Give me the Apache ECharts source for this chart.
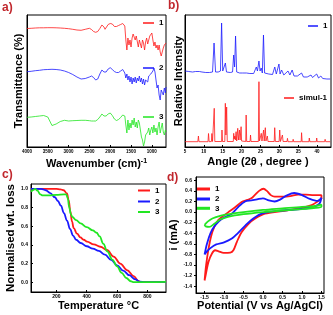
<!DOCTYPE html>
<html><head><meta charset="utf-8">
<script src="https://cdn.jsdelivr.net/npm/echarts@6/dist/echarts.min.js"></script>
<style>html,body{margin:0;padding:0;background:#fff}#c{width:333px;height:315px}</style>
</head><body><div id="c"></div><script>
const FONT = '"Liberation Sans", Arial, sans-serif';
// ---------- a) FTIR ----------
const ftirWavenumber = [4000,3900,3800,3700,3600,3500,3400,3300,3200,3100,3000,2900,2800,2700,2600,2500,
  2450,2400,2350,2300,2250,2200,2175,2150,2125,2100,2050,2000,1950,1900,1850,1800,1750,1700,1675,1650,1625,
  1600,1575,1550,1525,1500,1475,1450,1425,1400,1375,1350,1325,1300,1275,1250,1225,1200,1175,1150,1125,1100,1075,1050,1025,1000,975,950,925,900,875,850,825,800,775,750,725,700,675,
  660];
const ftir1 = [118.5,118.7,119,119.2,119.2,119.3,119.3,119.2,119,118.7,118.3,117.7,117,116.7,117.7,118.7,
  117.5,115.5,114.7,115.5,118.5,122,123,120,117.7,119,122.5,123.5,123,120.5,120.5,121.5,122.5,123.5,123,121,107,
  97,109,102,107,100,109,113,115,107,111,109,100,107,103,99,107,104,97,105,109,103,107,111,113,114,107,101,105,99,102,97,102,95,91,89,99,102,103,
  104];
const ftir2 = [75.3,75.7,76.3,76.7,77.3,77.5,77.7,77.5,77,76,74.5,72.5,70,68,68.5,70,
  71,69.5,67,68,73,77,78,75,73,75,78,79.3,77.5,75.5,74.5,74.5,76,77.5,77,74,69,
  73,67,71,65,70,63,69,65,70,64,69,66,71,65,69,63,68,62,67,69,65,71,69,73,74,76,79,75,67,59,62,52,47,57,59,52,59,54,
  60];
const ftir3 = [29.7,30,30.5,31,31.5,30,21.5,23,25.5,26.7,26,26.3,26.5,26.7,26.7,26.3,
  26,26,26,27.5,30,33,33.5,31,29,31,33,34,31.5,28,26.5,27.5,29.5,32,33,31,22,
  14,27,17,24,19,27,22,29,20,25,19,27,24,17,10,7,1,5,12,10,15,19,12,17,20,14,22,15,19,12,20,25,14,19,24,15,12,17,
  15];
const ftirTicks = [4000,3500,3000,2500,2000,1500,1000];
// ---------- b) PXRD ----------
const pxrdExpAngle = [5,6,7,7.8,8.3,8.8,9.5,10.5,11.5,12.3,12.7,13.1,13.8,14.4,14.7,15.0,15.4,15.7,16.0,17.0,
  17.6,17.9,18.15,18.4,18.7,19.5,20.3,20.8,21.3,22.2,23.2,23.9,24.2,24.6,24.9,25.2,25.5,25.8,26.1,26.5,
  27.2,28.2,28.8,29.2,29.9,30.2,30.6,31.2,32.3,32.8,33.4,33.9,34.8,35.9,36.4,37.4,38.4,38.8,39.9,40.4,
  41.0,41.5,42.0,42.6,43.0,43.5];
const pxrdExpIntensity = [76,75.5,75,75.5,77.5,75.5,75,74.5,74.5,75,104,75,75,76,124,76,75,84,75,74.5,
  75,92,80,111,75,74,74,76,74,73.5,73.5,80,76,86,76,79,74,112,74,76,
  73,72.5,80,73,83,73,77,72,76,72,77,71,71,74,70,70,72,69.5,73,69,
  71,68.5,70,68,69.5,68];
const pxrdSimAngle = [5,8.4,8.56,8.7,11.1,11.23,11.4,12.0,12.12,12.3,12.62,12.75,12.9,14.7,14.8,14.95,15.55,15.69,15.85,16.04,16.2,
  17.8,17.91,18.05,18.2,18.35,18.54,18.7,18.98,19.15,19.43,19.6,19.87,20.0,21.1,21.21,21.35,22.25,22.37,22.5,
  24.45,24.6,24.75,25.1,25.22,25.4,25.7,25.84,26.0,26.15,26.29,26.45,26.7,26.82,27.0,28.65,28.78,28.95,
  29.95,30.11,30.3,30.7,30.82,31,32.05,32.16,32.3,33.55,33.67,33.8,35.8,35.9,36.05,37.85,37.95,38.1,
  39.8,39.91,40.05,42.0,42.14,42.3,43.5];
const pxrdSimIntensity = [5.3,5.3,11,5.3,5.3,13.5,5.3,5.5,13.5,5.5,5.5,38.7,5.5,5.5,17,5.5,5.5,43.7,12,40,5.5,
  5.5,13.7,8,11,7,15.3,6,18.7,7,17,7,20.3,6,5.5,32,5.5,5.5,12,5.5,
  5.5,65.3,6,6,13.7,6,6,17,6,6,19.3,6,6,11,5.5,5.5,19.3,5.5,
  5.5,17,5.5,5.5,12,5.5,5.5,8.7,5.3,5.3,7.7,5.3,5.3,14.3,5.3,5.3,9,5.3,
  5.3,9,5.3,5.3,7.7,5.3,5.3];
const pxrdTicks = [5,10,15,20,25,30,35,40];
// ---------- c) TGA ----------
const tgaTemp1 = [33,100,150,200,226,248,270,281,292,303,314,336,358,380,402,446,490,533,577,621,665,709,740,753,800,922];
const tgaLoss1 = [1.0,1.0,1.0,1.0,0.995,0.985,0.95,0.88,0.76,0.65,0.58,0.52,0.48,0.455,0.435,0.405,0.38,0.345,0.275,0.2,0.13,0.065,0.015,0.003,0.0,0.003];
const tgaTemp2 = [33,100,130,160,190,210,230,250,270,290,310,330,360,400,440,480,520,560,600,640,680,720,750,780,922];
const tgaLoss2 = [1.0,1.0,0.985,0.955,0.91,0.87,0.82,0.74,0.66,0.57,0.50,0.455,0.42,0.385,0.36,0.335,0.295,0.24,0.18,0.125,0.075,0.03,0.005,0.0,0.003];
const tgaTemp3 = [33,50,60,75,95,110,150,200,250,265,275,285,295,305,330,360,400,440,465,485,510,535,570,600,630,660,690,710,800,922];
const tgaLoss3 = [0.97,0.99,1.0,0.98,0.94,0.93,0.93,0.935,0.94,0.94,0.90,0.80,0.73,0.70,0.665,0.63,0.59,0.555,0.53,0.49,0.41,0.33,0.24,0.17,0.10,0.045,0.01,0.0,0.0,0.003];
const tgaTempTicks = [200,400,600,800];
const tgaLossTicks = [0,0.2,0.4,0.6,0.8,1.0];
// ---------- d) CV ----------
const cv1Potential = [-1.5,-1.46,-1.4,-1.33,-1.25,-1.15,-1.0,-0.85,-0.7,-0.55,-0.4,-0.3,-0.2,-0.1,0.01,0.1,0.2,0.3,0.5,0.7,
  0.9,1.1,1.3,1.5,1.5,1.4,1.25,1.0,0.5,0.05,-0.2,-0.37,-0.55,-0.67,-0.76,-0.84,-1.01,-1.14,-1.23,-1.31,-1.4,-1.48,-1.5];
const cv1Current = [-1.29,-1.0,-0.7,-0.45,-0.28,-0.15,-0.06,0.02,0.1,0.19,0.23,0.26,0.33,0.4,0.44,0.4,0.32,0.29,0.29,0.3,
  0.33,0.33,0.32,0.32,0.25,0.2,0.13,0.08,0.02,-0.03,-0.12,-0.22,-0.38,-0.56,-0.72,-0.765,-0.77,-0.74,-0.72,-0.78,-0.94,-1.22,-1.29];
const cv2Potential = [-1.5,-1.44,-1.35,-1.23,-1.06,-0.8,-0.63,-0.46,-0.3,-0.15,0.0,0.15,0.3,0.45,0.6,0.8,1.0,1.2,1.4,1.5,
  1.45,1.3,1.0,0.5,0.0,-0.25,-0.45,-0.65,-0.8,-1.0,-1.2,-1.35,-1.45,-1.5];
const cv2Current = [-0.8,-0.6,-0.4,-0.25,-0.13,-0.03,0.1,0.2,0.22,0.24,0.26,0.22,0.2,0.24,0.31,0.36,0.32,0.25,0.21,0.27,
  0.16,0.1,0.06,0.03,-0.02,-0.12,-0.25,-0.4,-0.5,-0.57,-0.61,-0.68,-0.75,-0.8];
const cv3Potential = [-1.5,-1.42,-1.3,-1.1,-0.8,-0.5,0.0,0.5,1.0,1.3,1.5,1.5,1.3,1.0,0.5,0.0,-0.5,-0.9,-1.1,-1.25,-1.38,-1.47,-1.5];
const cv3Current = [-0.24,-0.18,-0.12,-0.07,-0.03,0.0,0.04,0.07,0.1,0.11,0.14,0.1,0.075,0.055,0.03,0.0,-0.04,-0.09,-0.14,-0.22,-0.28,-0.27,-0.24];
const cvPotentialTicks = [-1.5,-1.0,-0.5,0,0.5,1.0,1.5];
const cvCurrentTicks = [0.6,0.4,0.2,0,-0.2,-0.4,-0.6,-0.8,-1.0,-1.2,-1.4];
const legendNames = {a1:'1',a2:'2',a3:'3',b1:'1',bs:'simul-1',c1:'1',c2:'2',c3:'3',d1:'1',d2:'2',d3:'3'};

const RED='#ff1a1a', BLUE='#1a1aff', GREEN='#22e622';
const zip = (xs, ys) => xs.map((x, i) => [x, ys[i]]);
function ser(name, idx, xs, ys, color, width, smooth, mono) {
  const s = {name, type:'line', xAxisIndex:idx, yAxisIndex:idx, data:zip(xs, ys), symbol:'none', showSymbol:false,
    lineStyle:{color, width}, itemStyle:{color}, animation:false, silent:true};
  if (smooth) s.smooth = smooth;
  if (mono) s.smoothMonotone = mono;
  return s;
}
const lblStyle = {fontSize:5, fontWeight:'bold', color:'#000', fontFamily:FONT};
const nameStyle = {fontSize:11, fontWeight:'bold', color:'#000', fontFamily:FONT};
const axLine = {show:true, onZero:false, lineStyle:{color:'#000', width:1}};
const plain = v => String(v);
const f1 = v => (Math.abs(v) < 1e-9 ? 0 : v).toFixed(1);
function ticks(vals, inside) {
  return {show:true, inside:inside !== false, length:2, customValues:vals, lineStyle:{color:'#000'}};
}
function labels(vals, fmt, margin, size) {
  return Object.assign({}, lblStyle, {margin, customValues:vals, formatter:fmt, fontSize:size || 5});
}
function ax(idx, o) {
  return Object.assign({gridIndex:idx, type:'value', axisLine:axLine, splitLine:{show:false},
    nameLocation:'middle', nameTextStyle:nameStyle}, o);
}

const legendSpec = [
  ['a1',143,19,11,1.5],['a2',143,64,11,1.5],['a3',143,113,11,1.5],
  ['b1',308,22,10,1.5],['bs',284,94,10,1.5],
  ['c1',138,186.5,12,2],['c2',138,197.5,12,2],['c3',138,208,12,2],
  ['d1',197,185,13,3],['d2',197,195,13,3],['d3',197,204.3,13,3]
];

const option = {
  backgroundColor:'#fff',
  animation:false,
  textStyle:{fontFamily:FONT},
  title:[
    {text:'a)', left:2, top:2},
    {text:'b)', left:168, top:0},
    {text:'c)', left:2, top:169},
    {text:'d)', left:167, top:172}
  ].map(t => Object.assign({padding:0, textStyle:{fontSize:12, fontWeight:'bold', color:'#c1272d', fontFamily:FONT}}, t)),
  grid:[
    {left:27, top:15, width:139, height:132},
    {left:185, top:15, width:146, height:132},
    {left:31, top:184, width:135, height:108},
    {left:196, top:177, width:128, height:116}
  ].map(g => Object.assign({show:true, borderColor:'#000', borderWidth:1, backgroundColor:'transparent'}, g)),
  legend: legendSpec.map(([n,l,t,w,h]) => ({data:[n], left:l, top:t, itemWidth:w, itemHeight:h, icon:'rect',
    padding:0, selectedMode:false, formatter:name => legendNames[name],
    textStyle:{fontSize:8, fontWeight:'bold', color:'#000', fontFamily:FONT}})),
  xAxis:[
    ax(0, {min:660, max:4000, inverse:true, name:'Wavenumber (cm){s|-1}', nameGap:11,
      nameTextStyle:Object.assign({}, nameStyle, {rich:{s:{fontSize:7, fontWeight:'bold', fontFamily:FONT, verticalAlign:'top', color:'#000'}}}),
      axisTick:ticks(ftirTicks), axisLabel:labels(ftirTicks, plain, 2, 4.5)}),
    ax(1, {min:5, max:43.7, name:'Angle (2θ , degree )', nameGap:9.5,
      axisTick:ticks(pxrdTicks), axisLabel:labels(pxrdTicks, plain, 2, 4.5)}),
    ax(2, {min:33, max:922, name:'Temperature °C', nameGap:8,
      axisTick:ticks(tgaTempTicks), axisLabel:labels(tgaTempTicks, plain, 2)}),
    ax(3, {min:-1.72, max:1.566, name:'Potential (V vs Ag/AgCl)', nameGap:7.5,
      axisTick:ticks(cvPotentialTicks), axisLabel:labels(cvPotentialTicks, f1, 2)})
  ],
  yAxis:[
    ax(0, {min:0, max:132, name:'Transmittance (%)', nameGap:3, axisTick:{show:false}, axisLabel:{show:false}}),
    ax(1, {min:0, max:132, name:'Relative Intensity', nameGap:1, axisTick:{show:false}, axisLabel:{show:false}}),
    ax(2, {min:-0.105, max:1.052, name:'Normalised wt. loss', nameGap:11.5,
      nameTextStyle:Object.assign({}, nameStyle, {fontSize:11.5}),
      axisTick:ticks(tgaLossTicks), axisLabel:labels(tgaLossTicks, f1, 3)}),
    ax(3, {min:-1.526, max:0.662, name:'i (mA)', nameGap:15,
      axisTick:ticks(cvCurrentTicks, false), axisLabel:labels(cvCurrentTicks, f1, 4)})
  ],
  series:[
    ser('a1',0,ftirWavenumber,ftir1,RED,0.8),
    ser('a2',0,ftirWavenumber,ftir2,BLUE,0.8),
    ser('a3',0,ftirWavenumber,ftir3,GREEN,0.8),
    ser('b1',1,pxrdExpAngle,pxrdExpIntensity,BLUE,0.8),
    ser('bs',1,pxrdSimAngle,pxrdSimIntensity,RED,0.8),
    ser('c1',2,tgaTemp1,tgaLoss1,RED,1.8,0.4,'x'),
    ser('c2',2,tgaTemp2,tgaLoss2,BLUE,1.8,0.4,'x'),
    ser('c3',2,tgaTemp3,tgaLoss3,GREEN,1.8,0.4,'x'),
    ser('d1',3,cv1Potential,cv1Current,RED,1.8,0.3),
    ser('d2',3,cv2Potential,cv2Current,BLUE,1.8,0.3),
    ser('d3',3,cv3Potential,cv3Current,GREEN,1.8,0.3)
  ]
};
const chart = echarts.init(document.getElementById('c'), null, {renderer:'canvas'});
chart.setOption(option);
</script></body></html>
